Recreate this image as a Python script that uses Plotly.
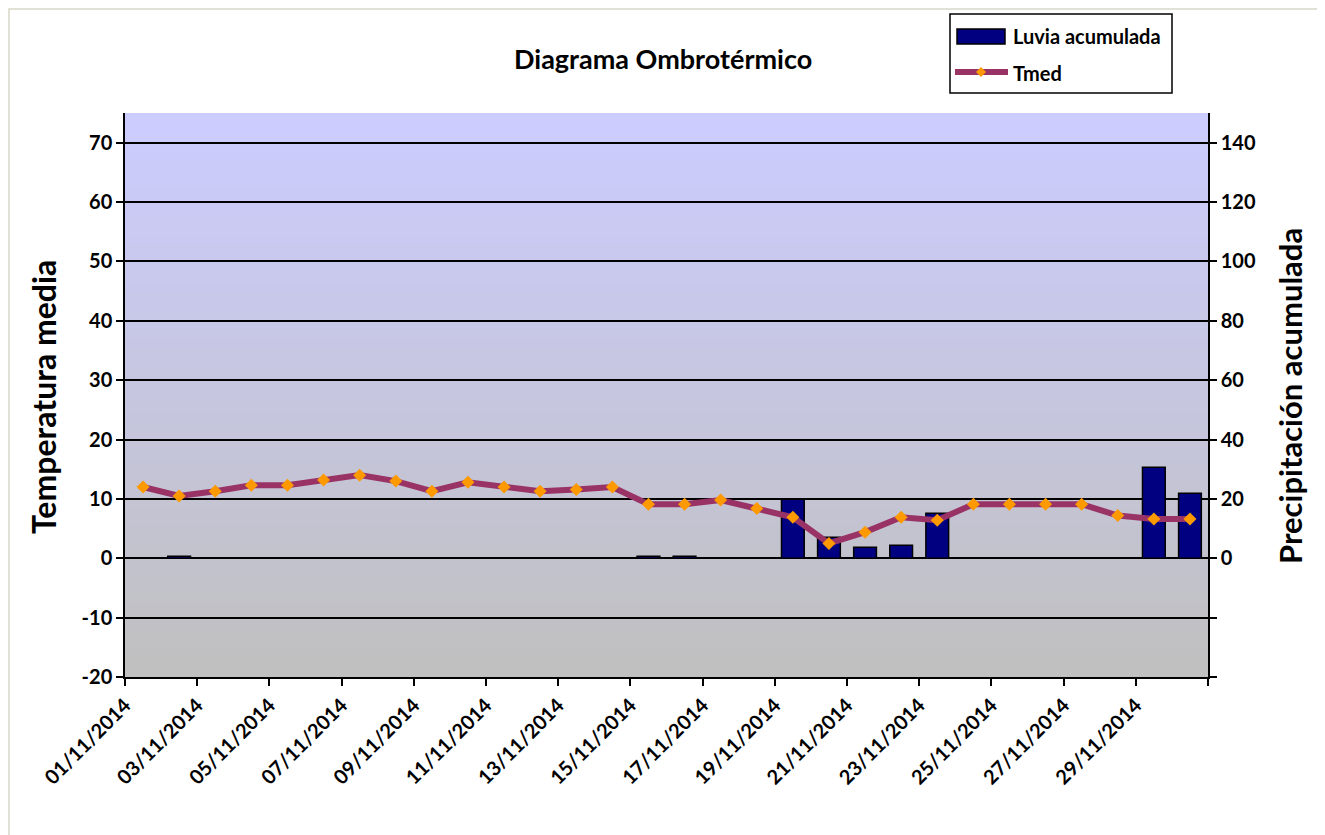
import plotly.graph_objects as go

dates = [f"{d:02d}/11/2014" for d in range(1, 31)]
tmed = [12.0, 10.5, 11.3, 12.3, 12.3, 13.2, 14.0, 13.0, 11.3, 12.8,
        12.0, 11.3, 11.6, 12.0, 9.1, 9.1, 9.8, 8.4, 6.9, 2.5,
        4.4, 6.9, 6.4, 9.1, 9.1, 9.1, 9.1, 7.2, 6.6, 6.6]
lluvia = [0, 0.7, 0, 0, 0, 0, 0, 0, 0, 0,
          0, 0, 0, 0, 0.7, 0.7, 0, 0, 19.9, 7.1,
          3.7, 4.4, 15.2, 0, 0, 0, 0, 0, 30.7, 21.9]
left_ticks = list(range(-20, 80, 10))
right_ticks = list(range(-40, 160, 20))
right_labels = [str(v) if v >= 0 else "" for v in right_ticks]

xidx = list(range(len(dates)))
tick_pos = [i - 0.5 for i in range(0, len(dates) + 1, 2)]
tick_txt = [dates[i] if i < len(dates) else "" for i in range(0, len(dates) + 1, 2)]

FONT = "Lato"
PL, PR, PT, PB = 125, 1208, 113, 677
def X(px):
    return (px - PL) / (PR - PL)
def Y(py):
    return (PB - py) / (PB - PT)

fig = go.Figure()
# bars on base axis (right side, precipitation), line on overlay axis (left, temperature)
fig.add_trace(go.Bar(
    x=xidx, y=lluvia, name="Luvia acumulada", yaxis="y",
    marker=dict(color="#000080", line=dict(color="black", width=1.5)),
    width=0.63, showlegend=False))
fig.add_trace(go.Scatter(
    x=xidx, y=tmed, name="Tmed", mode="lines+markers", yaxis="y2",
    line=dict(color="#993366", width=6),
    marker=dict(symbol="diamond", color="#FF9900", size=10),
    showlegend=False))

shapes = []
n = 60
c1 = (204, 204, 255)
c2 = (192, 192, 192)
for k in range(n):
    t = k / (n - 1)
    c = tuple(round(c1[j] + (c2[j] - c1[j]) * t) for j in range(3))
    shapes.append(dict(type="rect", xref="x domain", yref="y domain",
                       x0=0, x1=1, y0=max(0, 1 - (k + 1.6) / n), y1=1 - k / n,
                       fillcolor=f"rgb{c}", line=dict(width=0), layer="below"))
shapes.append(dict(type="rect", xref="paper", yref="paper",
                   x0=X(9), x1=X(1340), y0=Y(850), y1=Y(9),
                   line=dict(color="#D8D8C8", width=1.5), layer="below"))
# manual legend
shapes.append(dict(type="rect", xref="paper", yref="paper",
                   x0=X(950), x1=X(1172), y0=Y(93), y1=Y(14),
                   line=dict(color="black", width=1.5), fillcolor="white"))
shapes.append(dict(type="rect", xref="paper", yref="paper",
                   x0=X(957), x1=X(1005), y0=Y(44), y1=Y(29),
                   line=dict(color="black", width=1.5), fillcolor="#000080"))
shapes.append(dict(type="line", xref="paper", yref="paper",
                   x0=X(955), x1=X(1008), y0=Y(72), y1=Y(72),
                   line=dict(color="#993366", width=6)))
dx, dy = 5, 5
shapes.append(dict(type="path", xref="paper", yref="paper",
                   path=(f"M {X(981-dx)} {Y(72)} L {X(981)} {Y(72-dy)} "
                         f"L {X(981+dx)} {Y(72)} L {X(981)} {Y(72+dy)} Z"),
                   line=dict(width=0), fillcolor="#FF9900"))

annotations = [
    dict(text="<b>Luvia acumulada</b>", xref="paper", yref="paper",
         x=X(1011), y=Y(36), xanchor="left", yanchor="middle",
         showarrow=False, font=dict(size=20, family=FONT, color="black")),
    dict(text="<b>Tmed</b>", xref="paper", yref="paper",
         x=X(1011), y=Y(73), xanchor="left", yanchor="middle",
         showarrow=False, font=dict(size=20, family=FONT, color="black")),
    dict(text="<b>Diagrama Ombrotérmico</b>", xref="paper", yref="paper",
         x=X(663), y=Y(58), xanchor="center", yanchor="middle",
         showarrow=False, font=dict(size=27, family=FONT, color="black")),
    dict(text="<b>Temperatura media</b>", xref="paper", yref="paper",
         x=X(43), y=Y(397), xanchor="center", yanchor="middle", textangle=-90,
         showarrow=False, font=dict(size=32, family=FONT, color="black")),
    dict(text="<b>Precipitación acumulada</b>", xref="paper", yref="paper",
         x=X(1290), y=Y(396), xanchor="center", yanchor="middle", textangle=-90,
         showarrow=False, font=dict(size=31, family=FONT, color="black")),
]

fig.update_layout(
    width=1317, height=827,
    margin=dict(l=117, r=117, t=105, b=158),
    paper_bgcolor="white", plot_bgcolor="rgba(0,0,0,0)",
    font=dict(family=FONT, color="black"),
    shapes=shapes, annotations=annotations,
    showlegend=False,
    xaxis=dict(range=[-0.5, len(dates) - 0.5], tickmode="array",
               tickvals=tick_pos, ticktext=[f"<b>{t}</b>" for t in tick_txt],
               tickangle=-45, ticks="outside", ticklen=7, tickcolor="black",
               tickwidth=1.5,
               showline=True, linecolor="black", linewidth=1.5,
               showgrid=False, zeroline=False, tickfont=dict(size=20, family=FONT)),
    yaxis=dict(range=[-40, 150], side="right", tickmode="array",
               tickvals=right_ticks, ticktext=[f"<b>{v}</b>" for v in right_labels],
               ticks="outside", ticklen=7, tickcolor="black", tickwidth=1.5,
               showline=True, linecolor="black", linewidth=1.5,
               showgrid=True, gridcolor="black", gridwidth=1.5,
               zeroline=True, zerolinecolor="black", zerolinewidth=2,
               tickfont=dict(size=20, family=FONT)),
    yaxis2=dict(range=[-20, 75], overlaying="y", side="left", tickmode="array",
                tickvals=left_ticks, ticktext=[f"<b>{v}</b>" for v in left_ticks],
                ticks="outside", ticklen=7, tickcolor="black", tickwidth=1.5,
                showline=True, linecolor="black", linewidth=1.5,
                showgrid=False, zeroline=False,
                tickfont=dict(size=20, family=FONT)),
)
fig.write_html("out.html")
